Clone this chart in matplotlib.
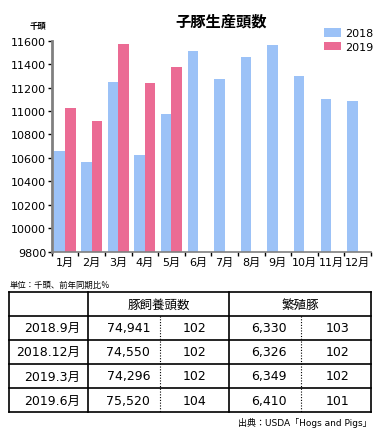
import matplotlib

matplotlib.use("Agg")
import matplotlib.pyplot as plt
import numpy as np

plt.rcParams["font.family"] = ["DejaVu Sans", "Noto Sans CJK JP"]

months = ["1月", "2月", "3月", "4月", "5月", "6月", "7月", "8月", "9月", "10月", "11月", "12月"]
pigs_2018 = [10660, 10565, 11250, 10623, 10972, 11508, 11276, 11465, 11560, 11302, 11104, 11087]
pigs_2019 = [11027, 10915, 11568, 11242, 11379]

table_header = ["豚飼養頭数", "繁殖豚"]
table_rows = ["2018.9月", "2018.12月", "2019.3月", "2019.6月"]
herd_total = ["74,941", "74,550", "74,296", "75,520"]
herd_ratio = ["102", "102", "102", "104"]
sows_total = ["6,330", "6,326", "6,349", "6,410"]
sows_ratio = ["103", "102", "102", "101"]

C2018 = "#9cc2f7"
C2019 = "#eb6b94"

W, H = 382, 435
fig = plt.figure(figsize=(W / 100, H / 100), dpi=100)

# ---- bar chart ----
ax = fig.add_axes([51.7 / W, 182.3 / H, 319.3 / W, 211.0 / H])
x = np.arange(len(months))
bw = 0.395
ax.bar(x - bw / 2, pigs_2018, bw, color=C2018, label="2018")
ax.bar(np.arange(len(pigs_2019)) + bw / 2, pigs_2019, bw, color=C2019, label="2019")

ax.set_xlim(-0.5, len(months) - 0.5)
ax.set_ylim(9800, 11600)
ax.set_yticks(np.arange(9800, 11601, 200))
ax.tick_params(axis="y", length=3, width=1, labelsize=8, pad=1)
ax.set_xticks(x)
ax.set_xticklabels(months, fontsize=8)
ax.tick_params(axis="x", length=0, pad=4)
ax.set_xticks(np.arange(len(months) + 1) - 0.5, minor=True)
ax.tick_params(axis="x", which="minor", length=3, width=1)

for s in ["top", "right"]:
    ax.spines[s].set_visible(False)
ax.spines["left"].set_color("#808080")
ax.spines["left"].set_linewidth(2)
ax.spines["bottom"].set_color("#808080")
ax.spines["bottom"].set_linewidth(1.2)

leg = ax.legend(loc="upper right", bbox_to_anchor=(1.02, 1.08), frameon=False,
                fontsize=8, handlelength=1.6, handleheight=0.8,
                handletextpad=0.3, labelspacing=0.3, borderaxespad=0)

fig.text(221 / W, 1 - 22 / H, "子豚生産頭数", ha="center", va="center",
         fontsize=11, fontweight="bold")
fig.text(38 / W, 1 - 27 / H, "千頭", ha="center", va="center", fontsize=6,
         fontweight="bold")

# ---- table ----
tab = fig.add_axes([0, 0, 1, 1])
tab.set_xlim(0, W)
tab.set_ylim(H, 0)
tab.axis("off")

tab.text(10, 285, "単位：千頭、前年同期比％", ha="left", va="center", fontsize=6)

xs = [9.3, 88.3, 229.3, 371]
ys = [293.3, 317, 340.7, 364.7, 389.3, 413.3]
for yy in ys:
    tab.plot([xs[0], xs[-1]], [yy, yy], color="black", lw=1.2)
for xx in xs:
    tab.plot([xx, xx], [ys[0], ys[-1]], color="black", lw=1.2)
for xx in [160, 301]:
    tab.plot([xx, xx], [ys[1], ys[-1]], color="black", lw=0.8, ls=(0, (1, 1.5)))

hy = (ys[0] + ys[1]) / 2
tab.text((xs[1] + xs[2]) / 2, hy, table_header[0], ha="center", va="center", fontsize=9)
tab.text((xs[2] + xs[3]) / 2, hy, table_header[1], ha="center", va="center", fontsize=9)

for i, label in enumerate(table_rows):
    cy = (ys[i + 1] + ys[i + 2]) / 2
    tab.text(80, cy, label, ha="right", va="center", fontsize=9)
    tab.text(150, cy, herd_total[i], ha="right", va="center", fontsize=9)
    tab.text(195, cy, herd_ratio[i], ha="center", va="center", fontsize=9)
    tab.text(287, cy, sows_total[i], ha="right", va="center", fontsize=9)
    tab.text(338, cy, sows_ratio[i], ha="center", va="center", fontsize=9)

tab.text(371.5, 423, "出典：USDA「Hogs and Pigs」", ha="right", va="center", fontsize=6.5)

fig.savefig("out.png", dpi=100)
plt.close(fig)
